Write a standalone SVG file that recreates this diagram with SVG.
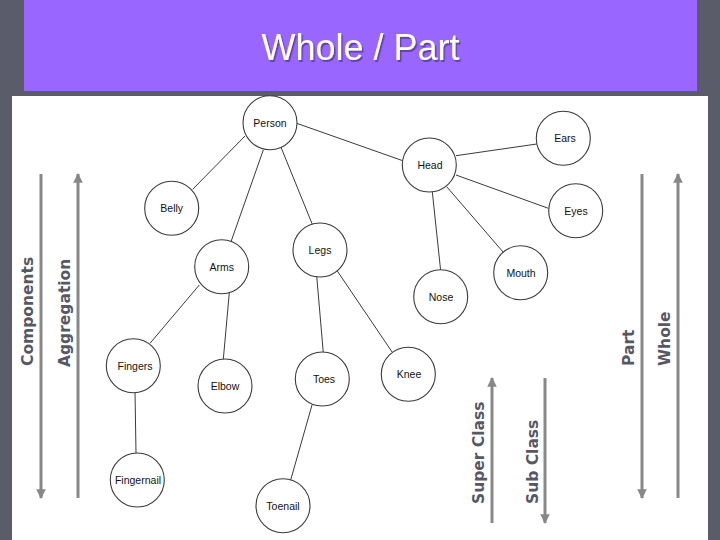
<svg xmlns="http://www.w3.org/2000/svg" width="720" height="540" viewBox="0 0 720 540">
<style>
.node circle{fill:#fff;stroke:#3a3a3a;stroke-width:1.1}
.node text{font-family:"Liberation Sans",Arial,sans-serif;font-size:10.5px;fill:#111;text-anchor:middle}
#connectors line{stroke:#3a3a3a;stroke-width:1}
.arr{stroke:#888;stroke-width:3;fill:none}
.lbl{font-family:"DejaVu Sans",Verdana,sans-serif;font-weight:bold;font-size:15.5px;fill:#565864}
</style>
<defs>
<marker id="ah" viewBox="0 0 10 10" refX="9" refY="5" markerWidth="3.2" markerHeight="3.2" orient="auto" markerUnits="strokeWidth">
<path d="M0,0 L10,5 L0,10 Z" fill="#888"/>
</marker>
<filter id="sh" x="-10%" y="-20%" width="120%" height="150%">
<feDropShadow dx="1.5" dy="2" stdDeviation="0.6" flood-color="#3a2a66" flood-opacity="0.6"/>
</filter>
</defs>
<rect x="0" y="0" width="720" height="540" fill="#5a5c6a"/>
<rect x="24" y="0" width="673" height="91" fill="#9966ff"/>
<rect x="12" y="96" width="696" height="444" fill="#fff"/>
<text x="360.5" y="60" font-family="Liberation Sans,Arial,sans-serif" font-size="36" fill="#fffff4" text-anchor="middle" filter="url(#sh)">Whole / Part</text>

<g id="side-arrows">
<line class="arr" x1="41" y1="174" x2="41" y2="498" marker-end="url(#ah)"/>
<line class="arr" x1="78" y1="498" x2="78" y2="174" marker-end="url(#ah)"/>
<line class="arr" x1="642" y1="174" x2="642" y2="498" marker-end="url(#ah)"/>
<line class="arr" x1="678" y1="498" x2="678" y2="174" marker-end="url(#ah)"/>
<line class="arr" x1="492" y1="523" x2="492" y2="378" marker-end="url(#ah)"/>
<line class="arr" x1="545" y1="378" x2="545" y2="523" marker-end="url(#ah)"/>
<text class="lbl" transform="translate(33,366) rotate(-90)">Components</text>
<text class="lbl" transform="translate(70,367) rotate(-90)">Aggregation</text>
<text class="lbl" transform="translate(634,366) rotate(-90)">Part</text>
<text class="lbl" transform="translate(670,366) rotate(-90)">Whole</text>
<text class="lbl" transform="translate(484,504) rotate(-90)">Super Class</text>
<text class="lbl" transform="translate(538,504) rotate(-90)">Sub Class</text>
</g>

<g id="connectors">
<line x1="245" y1="136" x2="192.7" y2="189.3"/>
<line x1="263.3" y1="150" x2="231" y2="241.7"/>
<line x1="281" y1="147.3" x2="312.3" y2="224.3"/>
<line x1="296.7" y1="123.3" x2="402.7" y2="160.7"/>
<line x1="456" y1="155.7" x2="536.7" y2="144"/>
<line x1="456" y1="175" x2="548.3" y2="208.3"/>
<line x1="446.7" y1="186.7" x2="503.3" y2="252.3"/>
<line x1="432.3" y1="191.7" x2="440.7" y2="271"/>
<line x1="199.3" y1="285" x2="150" y2="343.3"/>
<line x1="229.3" y1="292.7" x2="223.3" y2="359.3"/>
<line x1="316.7" y1="276" x2="323.3" y2="352.7"/>
<line x1="337.3" y1="271" x2="392.3" y2="352.3"/>
<line x1="135" y1="391.7" x2="136" y2="453.3"/>
<line x1="312" y1="405" x2="290.7" y2="480"/>
</g>

<g id="person" class="node"><circle cx="270" cy="122.7" r="27"/><text x="270" y="126.5">Person</text></g>
<g id="belly" class="node"><circle cx="171.7" cy="208.3" r="27"/><text x="171.7" y="212">Belly</text></g>
<g id="arms" class="node"><circle cx="221.7" cy="266.7" r="27"/><text x="221.7" y="270.5">Arms</text></g>
<g id="legs" class="node"><circle cx="320" cy="250" r="27"/><text x="320" y="253.8">Legs</text></g>
<g id="head" class="node"><circle cx="429.3" cy="165" r="27"/><text x="430" y="168.8">Head</text></g>
<g id="ears" class="node"><circle cx="563.3" cy="138.3" r="27"/><text x="565" y="142">Ears</text></g>
<g id="eyes" class="node"><circle cx="575.7" cy="210.7" r="27"/><text x="576" y="214.5">Eyes</text></g>
<g id="mouth" class="node"><circle cx="520.7" cy="272.7" r="27"/><text x="521" y="276.5">Mouth</text></g>
<g id="nose" class="node"><circle cx="440.7" cy="296.7" r="27"/><text x="441" y="300.5">Nose</text></g>
<g id="fingers" class="node"><circle cx="133.3" cy="365.7" r="27"/><text x="135" y="369.5">Fingers</text></g>
<g id="elbow" class="node"><circle cx="225" cy="386" r="27"/><text x="225" y="389.8">Elbow</text></g>
<g id="toes" class="node"><circle cx="322.3" cy="379" r="27"/><text x="324" y="382.8">Toes</text></g>
<g id="knee" class="node"><circle cx="408.3" cy="374.3" r="27"/><text x="409" y="378">Knee</text></g>
<g id="fingernail" class="node"><circle cx="137.3" cy="480" r="27"/><text x="138" y="483.8">Fingernail</text></g>
<g id="toenail" class="node"><circle cx="283" cy="505.7" r="27"/><text x="283" y="509.5">Toenail</text></g>
</svg>
